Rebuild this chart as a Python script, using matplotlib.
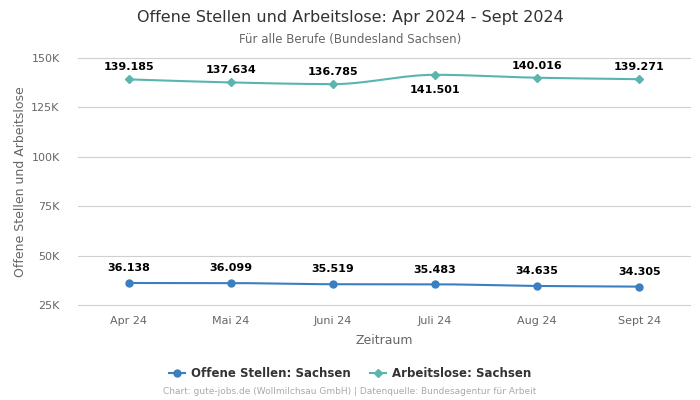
import numpy as np
import matplotlib.pyplot as plt

months = ['Apr 24', 'Mai 24', 'Juni 24', 'Juli 24', 'Aug 24', 'Sept 24']
offene = [36138, 36099, 35519, 35483, 34635, 34305]
arbeitslose = [139185, 137634, 136785, 141501, 140016, 139271]

blue = '#3a7fc0'
teal = '#5ab5ae'


def fmt(v):
    return f'{v:,}'.replace(',', '.')


def smooth(y, n=40):
    # monotone cubic (Fritsch-Carlson) just for drawing the curve
    y = np.asarray(y, float)
    x = np.arange(len(y))
    d = np.diff(y)
    m = np.zeros(len(y))
    m[0], m[-1] = d[0], d[-1]
    for i in range(1, len(y) - 1):
        if d[i - 1] * d[i] > 0:
            m[i] = 2 / (1 / d[i - 1] + 1 / d[i])
    xs, ys = [], []
    for i in range(len(y) - 1):
        t = np.linspace(0, 1, n)
        h00 = 2 * t**3 - 3 * t**2 + 1
        h10 = t**3 - 2 * t**2 + t
        h01 = -2 * t**3 + 3 * t**2
        h11 = t**3 - t**2
        xs.append(x[i] + t)
        ys.append(h00 * y[i] + h10 * m[i] + h01 * y[i + 1] + h11 * m[i + 1])
    return np.concatenate(xs), np.concatenate(ys)


fig = plt.figure(figsize=(7, 4), dpi=100)
ax = fig.add_axes([0.111, 0.2375, 0.875, 0.6175])

x = np.arange(len(months))
for vals, col, mk, ms in [(offene, blue, 'o', 5), (arbeitslose, teal, 'D', 4)]:
    sx, sy = smooth(vals)
    ax.plot(sx, sy, color=col, lw=1.5, zorder=3)
    ax.plot(x, vals, linestyle='none', marker=mk, ms=ms, color=col, zorder=4)

for i, v in enumerate(offene):
    ax.annotate(fmt(v), (i, v), xytext=(0, 7), textcoords='offset points',
                ha='center', va='bottom', fontsize=8, fontweight='bold')
for i, v in enumerate(arbeitslose):
    if i == 3:
        ax.annotate(fmt(v), (i, v), xytext=(0, -7), textcoords='offset points',
                    ha='center', va='top', fontsize=8, fontweight='bold')
    else:
        ax.annotate(fmt(v), (i, v), xytext=(0, 5), textcoords='offset points',
                    ha='center', va='bottom', fontsize=8, fontweight='bold')

ax.set_xlim(-0.5, 5.5)
ax.set_ylim(25000, 150000)
yt = [25000, 50000, 75000, 100000, 125000, 150000]
for v in yt:
    ax.axhline(v, color='#d0d0d0', lw=0.8, zorder=0, clip_on=False)
ax.set_yticks(yt)
ax.set_yticklabels(['25K', '50K', '75K', '100K', '125K', '150K'])
ax.set_xticks(x)
ax.set_xticklabels(months)
for s in ax.spines.values():
    s.set_visible(False)
ax.tick_params(axis='y', length=0, pad=13, labelsize=8, labelcolor='#666666')
ax.tick_params(axis='x', length=0, pad=8, labelsize=8, labelcolor='#666666')
ax.set_xlabel('Zeitraum', fontsize=9, color='#666666', labelpad=6)
ax.set_ylabel('Offene Stellen und Arbeitslose', fontsize=9, color='#666666', labelpad=3)

fig.text(0.5, 0.957, 'Offene Stellen und Arbeitslose: Apr 2024 - Sept 2024',
         ha='center', va='center', fontsize=11.5, color='#333333')
fig.text(0.5, 0.902, 'Für alle Berufe (Bundesland Sachsen)',
         ha='center', va='center', fontsize=8.5, color='#666666')

h1, = ax.plot([], [], color=blue, marker='o', ms=5, lw=1.5)
h2, = ax.plot([], [], color=teal, marker='D', ms=4, lw=1.5)
leg = fig.legend([h1, h2], ['Offene Stellen: Sachsen', 'Arbeitslose: Sachsen'],
                 loc='center', bbox_to_anchor=(0.5, 0.067), ncol=2, frameon=False,
                 fontsize=8.5, handlelength=1.4, handletextpad=0.5, columnspacing=1.6)
for t in leg.get_texts():
    t.set_fontweight('bold')
    t.set_color('#333333')

fig.text(0.5, 0.02, 'Chart: gute-jobs.de (Wollmilchsau GmbH) | Datenquelle: Bundesagentur für Arbeit',
         ha='center', va='center', fontsize=6.5, color='#aaaaaa')

fig.savefig('out.png', dpi=100)
